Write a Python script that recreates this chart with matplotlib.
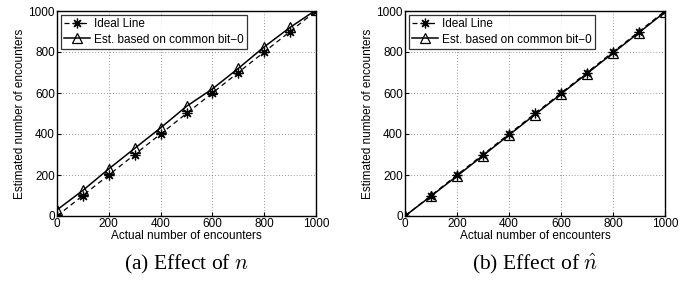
import matplotlib.pyplot as plt

# Data
actual = [0, 100, 200, 300, 400, 500, 600, 700, 800, 900, 1000]
ideal = [0, 100, 200, 300, 400, 500, 600, 700, 800, 900, 1000]
est_n = [30, 125, 230, 330, 430, 535, 620, 720, 825, 920, 1005]
est_nhat = [0, 97, 195, 295, 395, 495, 595, 695, 795, 895, 995]
captions = ["(a) Effect of $n$", "(b) Effect of $\\hat{n}$"]

plt.rcParams['font.family'] = ['Liberation Sans', 'DejaVu Sans']
plt.rcParams['mathtext.fontset'] = 'cm'


def draw(ax, est, caption):
    ax.plot(actual, ideal, color='black', linestyle=(0, (4, 3)), linewidth=0.9,
            marker=(8, 2, 0), markersize=7, markeredgewidth=0.9, label='Ideal Line')
    ax.plot(actual, est, color='black', linestyle='-', linewidth=1.1,
            marker='^', markersize=7, markerfacecolor='none', markeredgewidth=0.9,
            label='Est. based on common bit\u22120', clip_on=True)
    ax.set_xlim(0, 1000)
    ax.set_ylim(0, 1000)
    ax.set_xticks(range(0, 1001, 200))
    ax.set_yticks(range(0, 1001, 200))
    ax.grid(True, linestyle=(0, (1, 2.5)), color='#777777', linewidth=0.6)
    ax.tick_params(direction='in', labelsize=8.5, length=3, pad=1.5)
    for s in ax.spines.values():
        s.set_linewidth(1.0)
    ax.set_xlabel('Actual number of encounters', fontsize=8.5, labelpad=0)
    ax.set_ylabel('Estimated number of encounters', fontsize=8.5, labelpad=2)
    leg = ax.legend(loc='upper left', fontsize=8.5, frameon=True, fancybox=False,
                    edgecolor='black', handlelength=2.2, handletextpad=0.3,
                    borderpad=0.3, labelspacing=0.3, borderaxespad=0.3)
    leg.get_frame().set_linewidth(0.9)
    ax.text(0.5, -0.235, caption, transform=ax.transAxes, ha='center', va='center',
            fontsize=15.5, family='Liberation Serif')


fig = plt.figure(figsize=(6.94, 2.82), dpi=100)
ax1 = fig.add_axes([57 / 694, 1 - 216 / 282, 259 / 694, 205 / 282])
ax2 = fig.add_axes([405 / 694, 1 - 216 / 282, 260 / 694, 205 / 282])
draw(ax1, est_n, captions[0])
draw(ax2, est_nhat, captions[1])

fig.savefig('out.png', dpi=100)
